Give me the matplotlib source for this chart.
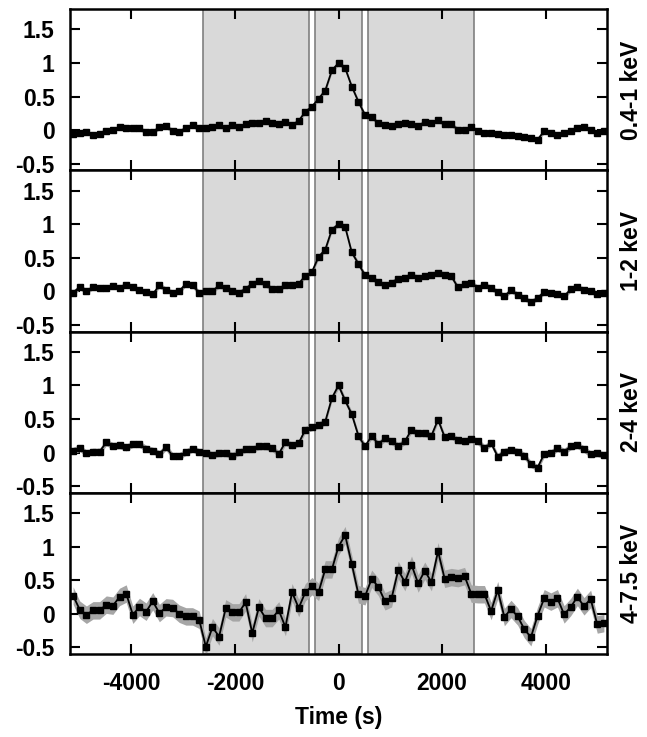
import numpy as np
import matplotlib
matplotlib.use("Agg")
import matplotlib.pyplot as plt

plt.rcParams['font.family'] = ['Liberation Sans', 'DejaVu Sans']
plt.rcParams['font.weight'] = 'bold'
plt.rcParams['axes.unicode_minus'] = False

# time bins (s)
bin_index = np.arange(-40, 41)
bin_width = 128
time = bin_index * bin_width

band_labels = ["0.4-1 keV", "1-2 keV", "2-4 keV", "4-7.5 keV"]

rate_04_1 = [-0.05, -0.04, -0.025, -0.075, -0.05, -0.01, 0.0, 0.05, 0.025, 0.025,
             0.025, -0.025, -0.025, 0.04, 0.06, -0.01, -0.025, 0.035, 0.07, 0.025,
             0.025, 0.05, 0.07, 0.025, 0.07, 0.04, 0.09, 0.11, 0.11, 0.13,
             0.11, 0.09, 0.125, 0.075, 0.14, 0.275, 0.35, 0.47, 0.59, 0.89,
             1.0, 0.925, 0.65, 0.425, 0.225, 0.2, 0.1, 0.075, 0.06, 0.085,
             0.1, 0.085, 0.06, 0.125, 0.11, 0.15, 0.085, 0.085, 0.01, 0.0,
             0.04, -0.01, -0.035, -0.035, -0.06, -0.07, -0.07, -0.085, -0.1, -0.115,
             -0.14, -0.015, -0.035, -0.075, -0.04, -0.01, 0.035, 0.04, 0.01, -0.04,
             -0.01]

rate_1_2 = [-0.02, 0.065, 0.0, 0.065, 0.05, 0.05, 0.08, 0.05, 0.1, 0.065,
            0.015, -0.01, -0.045, 0.09, 0.025, -0.02, 0.0, 0.115, 0.09, -0.02,
            0.0, 0.0, 0.09, 0.05, 0.01, -0.02, 0.04, 0.115, 0.155, 0.105,
            0.03, 0.03, 0.1, 0.1, 0.115, 0.23, 0.29, 0.515, 0.62, 0.92,
            1.0, 0.96, 0.58, 0.41, 0.24, 0.2, 0.14, 0.09, 0.13, 0.19,
            0.2, 0.25, 0.2, 0.225, 0.25, 0.28, 0.25, 0.225, 0.06, 0.105,
            0.13, 0.05, 0.1, 0.05, -0.01, -0.075, 0.02, -0.05, -0.1, -0.16,
            -0.1, -0.01, -0.02, -0.035, -0.075, 0.03, 0.065, 0.025, 0.005, -0.035,
            -0.025]

rate_2_4 = [0.03, 0.065, -0.01, 0.015, 0.015, 0.15, 0.1, 0.105, 0.075, 0.125,
            0.125, 0.06, 0.03, -0.02, 0.08, -0.05, -0.05, 0.005, 0.055, 0.01,
            -0.01, -0.035, -0.01, -0.01, -0.045, 0.005, 0.05, 0.05, 0.09, 0.09,
            0.065, -0.02, 0.155, 0.105, 0.14, 0.34, 0.375, 0.41, 0.46, 0.81,
            1.0, 0.775, 0.57, 0.25, 0.09, 0.25, 0.125, 0.21, 0.165, 0.1,
            0.165, 0.34, 0.285, 0.285, 0.25, 0.49, 0.23, 0.25, 0.18, 0.165,
            0.2, 0.165, 0.07, 0.14, -0.06, 0.015, 0.04, 0.015, -0.045, -0.175,
            -0.225, -0.02, -0.01, 0.065, 0.015, 0.09, 0.11, 0.05, -0.025, -0.01,
            -0.04]

rate_4_75 = [0.27, 0.06, -0.015, 0.05, 0.05, 0.135, 0.12, 0.25, 0.3, -0.015,
             0.1, 0.03, 0.185, 0.01, 0.095, 0.085, 0.0, -0.04, -0.04, -0.09,
             -0.49, -0.2, -0.34, 0.08, 0.02, 0.02, 0.17, -0.29, 0.095, -0.065,
             -0.065, 0.05, -0.2, 0.32, 0.085, 0.32, 0.41, 0.325, 0.66, 0.66,
             1.0, 1.17, 0.74, 0.29, 0.26, 0.52, 0.4, 0.185, 0.23, 0.65,
             0.47, 0.73, 0.45, 0.64, 0.47, 0.93, 0.52, 0.545, 0.53, 0.56,
             0.3, 0.29, 0.29, 0.04, 0.35, -0.05, 0.07, -0.04, -0.23, -0.35,
             -0.03, 0.23, 0.18, 0.23, -0.01, 0.1, 0.25, 0.11, 0.22, -0.16,
             -0.14]

band_errors = [0.035, 0.04, 0.05, 0.13]

shaded_intervals = [(-2620, -575), (-450, 450), (575, 2620)]

x_ticks = [-4000, -2000, 0, 2000, 4000]
x_ticklabels = ["-4000", "-2000", "0", "2000", "4000"]
y_ticks = [-0.5, 0, 0.5, 1, 1.5]
y_ticklabels = ["-0.5", "0", "0.5", "1", "1.5"]

all_rates = [rate_04_1, rate_1_2, rate_2_4, rate_4_75]

fig = plt.figure(figsize=(6.47, 7.37), dpi=100)
gs = fig.add_gridspec(4, 1, left=0.1082, right=0.9382, top=0.9874, bottom=0.1126, hspace=0)

fs = 16.5
for k in range(4):
    ax = fig.add_subplot(gs[k])
    r = np.array(all_rates[k])
    err = band_errors[k]
    for (a, b) in shaded_intervals:
        ax.axvspan(a, b, facecolor='#d9d9d9', edgecolor='#808080', linewidth=1.2, zorder=0)
    ax.fill_between(time, r - err, r + err, color='#a6a6a6', linewidth=0, zorder=2)
    ax.plot(time, r, color='black', linewidth=1.3, marker='s', markersize=4.6, zorder=3)
    ax.set_xlim(-5180, 5180)
    ax.set_ylim(-0.6, 1.8)
    ax.set_xticks(x_ticks)
    ax.set_yticks(y_ticks)
    ax.set_yticklabels(y_ticklabels, fontsize=fs, fontweight='bold')
    if k == 3:
        ax.set_xticklabels(x_ticklabels, fontsize=fs, fontweight='bold')
        ax.set_xlabel("Time (s)", fontsize=fs, fontweight='bold', labelpad=8)
    else:
        ax.set_xticklabels([])
    ax.tick_params(axis='x', direction='in', length=7.2, width=1.5, top=True, bottom=True, pad=13)
    ax.tick_params(axis='y', direction='in', length=7.2, width=1.5, left=True, right=True, pad=11)
    for s in ax.spines.values():
        s.set_linewidth(1.8)
        s.set_zorder(5)
    ax.yaxis.set_label_position('right')
    ax.set_ylabel(band_labels[k], fontsize=fs, fontweight='bold', rotation=90, labelpad=9)

fig.savefig("out.png", dpi=100)
